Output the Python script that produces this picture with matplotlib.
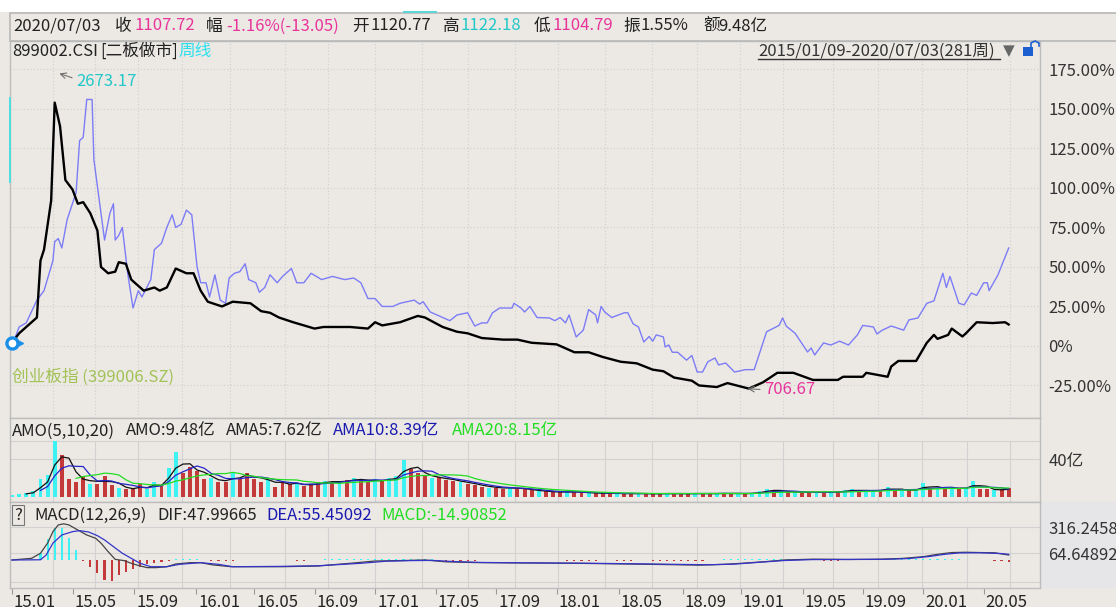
import numpy as np
import pandas as pd
import matplotlib
matplotlib.use('Agg')
import matplotlib.pyplot as plt
from matplotlib import transforms as mtransforms
from matplotlib.patches import Rectangle
from matplotlib.lines import Line2D

plt.rcParams['font.family'] = ['Noto Sans CJK SC', 'DejaVu Sans']

W, H = 1116, 607
BG = '#ECE9E5'

# 899002.CSI weekly close, % change (week index, value)
idx_w = [0, 2, 4, 7, 8, 9, 11, 12, 13.5, 15, 17, 18.5, 20, 22, 24, 25, 27, 29, 30, 32, 33.5,
         37, 40, 41.5, 43.5, 46, 49, 51, 53, 55, 59, 62, 67, 70, 72.5, 75, 79, 85, 87.5, 95,
         100, 102, 104, 109, 114, 116, 121, 125, 128, 132, 138, 142, 146, 153, 158, 162, 166,
         171, 175.5, 180, 183, 186, 191, 193, 198, 201, 207, 211, 215, 219.5, 225, 232, 233.5,
         239, 240, 246, 247, 249, 254, 257, 259, 260, 263, 264, 267, 268, 271, 275.5, 279, 280]
idx_v = [2, 8, 12, 18, 54, 61, 92, 154, 139, 105, 99, 90, 91, 84, 73, 50, 46, 47, 53, 52, 42,
         35, 37, 35, 37, 49, 46, 46, 35, 28, 25, 28, 27, 22, 21, 18, 15, 11, 12, 12,
         11, 15, 13, 15, 19, 18, 12, 9, 8, 5, 4, 4, 2, 1, -4, -4, -7,
         -10, -11, -15, -16, -20, -22, -25, -26, -23.5, -27, -23, -17, -17, -21.5, -21.5, -19.5,
         -19.5, -17, -19.5, -13, -9.5, -9.5, 2, 7, 4.5, 7, 11, 6, 8, 15, 14.5, 15, 13.6]

# 创业板指 (399006.SZ), % change
cyb_w = [0, 2, 4, 7, 9, 11.5, 12, 13, 14, 15.5, 18, 19, 20, 21, 22.5, 23, 25, 26, 27.5, 28.5,
         29, 30, 31, 32.5, 34, 35.5, 36.5, 39, 40, 42, 43.5, 45, 46, 47.5, 49, 50.5, 52, 53,
         54.5, 55.5, 57, 58.5, 60, 61, 62.5, 64, 65.5, 66.5, 68.5, 69.5, 71, 72.5, 74.5, 76,
         78.5, 80, 82, 84, 85.5, 87, 90, 93.5, 96, 98, 100, 102, 104, 107, 109, 113, 114.5,
         115.5, 117.5, 121, 123, 125, 128, 130, 132, 133.5, 135, 137, 140.5, 141, 143, 144,
         145.5, 147.5, 151, 152.5, 154, 155.5, 156.5, 158.5, 160.5, 162, 164, 164.5, 165.5,
         166.5, 168.5, 172, 173, 174.5, 176, 177.5, 179, 180, 181, 183, 183.5, 184.5, 185.5,
         187, 189.5, 191, 192.5, 194, 195.5, 197.5, 198.5, 200.5, 203, 206, 208.5, 212, 215.5,
         216.5, 217.5, 220, 223.5, 224.5, 225.5, 228, 230, 232.5, 235, 237.5, 239, 242, 243,
         244.5, 247, 250.5, 252, 254.5, 257, 259, 261.5, 262.5, 263.5, 266, 267.5, 269.5, 271,
         273, 274, 274.5, 277, 280]
cyb_v = [0, 12, 14.6, 29, 35, 54, 66, 68, 62, 80, 97, 130, 132, 156, 156, 118, 84, 67, 84, 90,
         67, 70, 75, 46, 24, 35, 31, 42, 61, 65, 75, 83, 75, 77, 86, 83, 50, 40,
         40, 31, 45, 29, 27, 43, 46, 47, 52, 42, 40, 34, 37, 45, 40, 44,
         49, 40, 40, 46, 44, 42, 44, 42, 43, 40, 30, 30, 25, 25, 27, 29, 26.5,
         28, 21.5, 18, 16, 19.6, 21, 12.6, 14.6, 14.6, 21, 24, 24, 27, 24, 21.5,
         25, 18, 17.7, 16, 18, 14.6, 19.6, 5.7, 10, 23, 19.6, 14.6, 25,
         21.5, 18, 21, 21, 14, 12, 2.5, 6, 3, 7, 5.7, -0.6, 0.6, -4,
         -4, -9, -6, -16.5, -16.5, -10, -7.6, -12, -10.8, -16.5, -15, -15, 9, 13,
         17.7, 12.6, 8, -3.8, -1.3, -5.7, 1.9, 0.6, 3, 0.6, 7, 13, 12, 7.6,
         10, 12.6, 10, 16.5, 17.7, 27, 28.5, 46, 37, 44, 27, 26, 33.5, 32,
         40, 40, 35, 45, 62]

# AMO (成交额, 亿) every second week, bar colour r=red c=cyan
amo = [2.5, 3, 4.6, 6, 19, 23, 60, 45, 19, 16,
       22, 14, 14, 22, 13, 9.5, 9, 8, 14, 8,
       16, 13, 31, 48, 26, 32, 28, 19, 20, 16,
       16, 26, 19, 26, 19, 16, 20, 11, 16, 14,
       14, 12, 13, 16, 17, 16, 16, 18, 20, 18,
       16, 19, 17, 20, 22, 39, 30, 26, 22, 20,
       21, 18, 17, 16, 14, 13, 11, 10, 10, 9,
       10, 9, 8, 7, 6, 6, 5, 5, 6, 5,
       5, 4, 4, 4, 4, 3.5, 3.5, 4, 3.5, 3.5,
       3.5, 3.5, 4, 3.5, 3.5, 3.5, 4, 3.5, 3.5, 4,
       4, 3.5, 4, 3.5, 4, 6, 8, 7, 6, 5,
       5, 5, 5, 5, 5, 5, 6, 7, 8, 6,
       7, 7, 7, 11, 7, 7, 7, 8, 15, 9,
       9, 10, 9, 9, 10, 17, 9, 8, 7, 8,
       9.5]
amo_dir = ("cccccccrrr" "rcrrrcrrrc" "crccrrrrcr" "rcrrrrcrrr" "crrrcrcrcr"
           "rcrcccrrrc" "rrrcrrrcrr" "crrrcrrrcr" "rcrrrcrrcr" "rrcrrrcrrc"
           "rrcrcccrcr" "crrcrcrccr" "ccrcrcrccr" "crcrccrrcr" "r")

# MACD(12,26,9)
macd_hist = [0, 0, 2, 5, 65, 200, 306, 306, 210, 97,
             -10, -65, -130, -194, -205, -150, -120, -90, -65, -40,
             -26, -16, -8, 12, 14, 12, 8, 0, -10, -10,
             -9, -9, 0, 0, 0, 0, 0, 0, 0, 0,
             -10, -10, 0, 0, 10, 10, 10, 10, 10, 10,
             10, 10, 10, 10, 10, 10, 10, 10, 8, 8,
             -10, -10, -10, -10, -10, -10, 0, 0, 0, 0,
             0, 0, 0, 0, 0, 0, 0, 0, -10, -10,
             -10, -8, -8, 0, 0, -10, -10, -10, 0, 0,
             -10, -10, -10, -10, -10, -10, -10, -8, 0, 0,
             8, 10, 10, 10, 10, 10, 10, 10, 10, 10,
             10, 8, 0, 0, -10, -10, -8, 0, 0, 0,
             0, 0, 0, 0, 10, 10, 10, 12, 12, 10,
             10, 10, 10, 8, 0, 0, 0, 0, -8, -12,
             -15]
dif_w = [0, 5.5, 8, 10, 11.5, 13, 14.5, 16, 18.5, 21, 23.5, 25, 27, 29, 31.5, 33.5, 36, 38, 40.5,
         43.5, 46, 50, 53, 56.5, 61.5, 67, 76, 86, 95, 102, 110, 116, 122, 130, 140, 150, 158,
         165, 175, 185, 193, 200, 205, 212, 217, 225, 235, 244, 250, 256, 260, 264, 268, 272,
         276, 280]
dif_v = [0, 16, 65, 163, 274, 339, 350, 339, 290, 242, 210, 163, 81, 6, -6, -32, -58, -74, -74,
         -65, -39, -26, -26, -48, -65, -65, -65, -58, -32, -10, -5, 0, -18, -25, -28, -30, -32,
         -35, -40, -45, -50, -42, -32, -15, 0, 8, 5, 8, 15, 32, 55, 72, 75, 72,
         70, 48]
dea_w = [0, 8, 9.6, 11.5, 14, 17, 19, 21.5, 24, 26, 28.5, 31, 33.5, 36, 39, 43.5, 47, 53, 58,
         62, 75, 86, 98, 105, 112, 118, 124, 132, 142, 152, 160, 168, 178, 188, 196, 203, 210,
         217, 225, 235, 245, 252, 258, 262, 266, 272, 278, 280]
dea_v = [0, 2, 48, 163, 242, 274, 284, 271, 235, 194, 129, 65, 16, -32, -65, -65, -42, -26, -42,
         -65, -62, -56, -32, -12, -6, -4, -15, -24, -27, -29, -31, -34, -38, -43, -46, -40, -22,
         -5, 4, 5, 6, 14, 35, 55, 68, 70, 62, 55]

pct_ticks = [-25, 0, 25, 50, 75, 100, 125, 150, 175]
macd_ticks = [64.64892, 316.24589]
tick_weeks = [0, 17.1, 34.3, 51.7, 68.0, 85.1, 102.0, 119.1, 136.0, 153.1, 170.5, 188.5,
              204.8, 222.2, 239.0, 255.9, 273.0]
tick_labels = ['15.01', '15.05', '15.09', '16.01', '16.05', '16.09', '17.01', '17.05',
               '17.09', '18.01', '18.05', '18.09', '19.01', '19.05', '19.09', '20.01', '20.05']
grid_weeks = [11.5, 23.3, 35.4, 47.8, 61.2, 76.7, 88.8, 102, 115.2, 128.1, 141.3, 153.4,
              166.6, 179.8, 192.4, 204.5, 216.6, 230.6, 243.3, 255.6, 268.3, 280.3]

week2 = np.arange(0, 281, 2)

fig = plt.figure(figsize=(W / 100, H / 100), dpi=100, facecolor=BG)

# lighter strip behind the MACD scale
fig.add_artist(Rectangle((1040 / W, 1 - 588 / H), 76 / W, 86 / H, transform=fig.transFigure,
                         facecolor='#E6E6E8', edgecolor='none', zorder=0))


def px_axes(l, t, r, b):
    a = fig.add_axes([l / W, 1 - b / H, (r - l) / W, (b - t) / H])
    a.set_facecolor(BG)
    for s in a.spines.values():
        s.set_color('#BDBDBD')
        s.set_linewidth(1.0)
    a.set_xlim(-0.56, 288.8)
    a.tick_params(axis='both', length=0, labelsize=12, colors='#333333')
    a.yaxis.tick_right()
    a.set_xticks([])
    return a


def ftext(x, y, s, color='#222222', size=12, **kw):
    fig.text(x / W, 1 - y / H, s, color=color, fontsize=size, va='center', ha=kw.pop('ha', 'left'), **kw)


ax = px_axes(10, 41, 1040, 418)
axv = px_axes(10, 418, 1040, 502)
axm = px_axes(10, 502, 1040, 588)

# ---- main panel
ax.set_ylim(-45.6, 193)
ax.set_yticks(pct_ticks)
ax.set_yticklabels(['0%' if v == 0 else '%.2f%%' % v for v in pct_ticks])
ax.tick_params(axis='y', pad=6)
for v in pct_ticks:
    ax.axhline(v, color='#CFCFCF', lw=0.8, ls=(0, (1, 2)), zorder=0)
for g in grid_weeks:
    ax.axvline(g, color='#CFCFCF', lw=0.8, ls=(0, (1, 2)), zorder=0)

ax.plot(cyb_w, cyb_v, color='#7C7CF6', lw=1.0, zorder=2)
ax.plot(idx_w, idx_v, color='black', lw=1.7, zorder=3)


def off(a, dx, dy):
    return a.transData + mtransforms.ScaledTranslation(dx / 100, -dy / 100, fig.dpi_scale_trans)


k = int(np.argmax(idx_v))
pw, pv = idx_w[k], idx_v[k]
ax.annotate('2673.17', xy=(pw, pv), xytext=(22 * 0.72, 21 * 0.72), textcoords='offset points',
            color='#22C8C8', fontsize=12, ha='left', va='center', annotation_clip=False)
ax.annotate('', xy=(pw, pv), xycoords=off(ax, 2, -30), xytext=(pw, pv), textcoords=off(ax, 20, -24),
            arrowprops=dict(arrowstyle='->', color='#707070', lw=0.8), annotation_clip=False)
k = int(np.argmin(idx_v))
mw, mv = idx_w[k], idx_v[k]
ax.annotate('706.67', xy=(mw, mv), xytext=(15 * 0.72, -1 * 0.72), textcoords='offset points',
            color='#E8349A', fontsize=12, ha='left', va='center')
ax.annotate('', xy=(mw, mv), xycoords=off(ax, -4, 0), xytext=(mw, mv), textcoords=off(ax, 14, 1),
            arrowprops=dict(arrowstyle='->', color='#707070', lw=0.8))

# start marker
ax.plot(idx_w[0], idx_v[0], marker='o', ms=8, mfc='white', mec='#1A8FE8', mew=2.4, clip_on=False, zorder=5)
ax.plot(idx_w[0], idx_v[0], marker='>', ms=5, color='#1A8FE8', clip_on=False, zorder=5,
        transform=off(ax, 8, 0))

ax.text(0.002, 0.108, '创业板指 (399006.SZ)', transform=ax.transAxes, color='#A2C256',
        fontsize=12, va='center', ha='left')

# ---- volume panel
axv.set_ylim(-5.3, 84)
axv.set_yticks([40])
axv.set_yticklabels(['40亿'])
axv.tick_params(axis='y', pad=6)
for v in (40, 60):
    axv.axhline(v, color='#D2D2D2', lw=0.8, zorder=0)
axv.vlines(grid_weeks, -5.3, 60, color='#D2D2D2', lw=0.8, zorder=0)
bar_cols = ['#C43A3A' if c == 'r' else '#3CF2F2' for c in amo_dir]
axv.bar(week2, amo, width=1.1, color=bar_cols, zorder=2)
s = pd.Series(amo)
axv.plot(week2, s.rolling(3).mean(), color='#111111', lw=0.9, zorder=3)
axv.plot(week2, s.rolling(5).mean(), color='#2626C8', lw=0.9, zorder=3)
axv.plot(week2, s.rolling(10).mean(), color='#22DD22', lw=0.9, zorder=3)

# ---- MACD panel
axm.set_facecolor('none')
axm.set_ylim(-271, 561)
axm.set_yticks(macd_ticks)
axm.set_yticklabels(['64.64892', '316.24589'])
axm.tick_params(axis='y', pad=6)
axm.add_patch(Rectangle((0, 0), 1, 1, transform=axm.transAxes, facecolor=BG, edgecolor='none', zorder=-1))
for v in macd_ticks + [-213]:
    axm.axhline(v, color='#D2D2D2', lw=0.8, zorder=0)
axm.vlines(grid_weeks, -271, 316.25, color='#D2D2D2', lw=0.8, zorder=0)
h_cols = ['#3CF2F2' if v >= 0 else '#C43A3A' for v in macd_hist]
axm.bar(week2, macd_hist, width=0.6, color=h_cols, zorder=2)
axm.plot(dif_w, dif_v, color='#444444', lw=0.9, zorder=3)
axm.plot(dea_w, dea_v, color='#3434C8', lw=0.9, zorder=3)

axm.set_xticks(tick_weeks)
axm.set_xticklabels(tick_labels, ha='left')
axm.tick_params(axis='x', length=4, direction='out', color='#9A9A9A', labelsize=12,
                labelcolor='#222222', pad=0)
for lab in axm.get_xticklabels():
    lab.set_transform(lab.get_transform() + mtransforms.ScaledTranslation(0.02, 0, fig.dpi_scale_trans))

# ---- header / decorations
fig.add_artist(Rectangle((0, 1 - 12 / H), 1, 12 / H, transform=fig.transFigure,
                         facecolor='white', edgecolor='none'))
fig.add_artist(Rectangle((10 / W, 1 - 41 / H), 1110 / W, 28 / H, transform=fig.transFigure,
                         facecolor=BG, edgecolor='#B8B8B8', lw=1.2))
fig.add_artist(Rectangle((403 / W, 1 - 13 / H), 34 / W, 2 / H, transform=fig.transFigure,
                         facecolor='#5ED6D6', edgecolor='none'))
fig.add_artist(Rectangle((9 / W, 1 - 183 / H), 2 / W, 86 / H, transform=fig.transFigure,
                         facecolor='#4EDEDE', edgecolor='none'))

header = [(13, '2020/07/03', '#222222'), (115, '收', '#222222'), (134, '1107.72', '#E8349A'),
          (206, '幅', '#222222'), (226, '-1.16%(-13.05)', '#E8349A'), (352, '开', '#222222'),
          (370, '1120.77', '#222222'), (443, '高', '#222222'), (461, '1122.18', '#22C8C8'),
          (534, '低', '#222222'), (552, '1104.79', '#E8349A'), (623, '振', '#222222'),
          (640, '1.55%', '#222222'), (703, '额', '#222222'), (718, '9.48亿', '#222222')]
for x, t, c in header:
    ftext(x, 26, t, c)

ftext(12, 51, '899002.CSI', '#222222')
ftext(100, 51, '[二板做市]', '#222222')
ftext(178, 51, '周线', '#2EE0EE')
ftext(758, 51, '2015/01/09-2020/07/03(281周)', '#333333')
fig.add_artist(Line2D([758 / W, 1000 / W], [1 - 59 / H, 1 - 59 / H], color='#333333', lw=1))
ftext(1009, 51, '▼', '#666666', size=11, ha='center', family='DejaVu Sans')
fig.add_artist(Rectangle((1023 / W, 1 - 56 / H), 10 / W, 9 / H, transform=fig.transFigure,
                         facecolor='#1C5FD0', edgecolor='none'))
fig.add_artist(Line2D([1031 / W, 1031 / W, 1035 / W, 1039 / W, 1039 / W],
                      [1 - 47 / H, 1 - 43 / H, 1 - 41 / H, 1 - 43 / H, 1 - 46 / H],
                      color='#1C5FD0', lw=1.2))

ftext(12, 431, 'AMO(5,10,20)', '#222222')
ftext(126, 431, 'AMO:9.48亿', '#222222')
ftext(226, 431, 'AMA5:7.62亿', '#222222')
ftext(333, 431, 'AMA10:8.39亿', '#1A1AB0')
ftext(452, 431, 'AMA20:8.15亿', '#22DD22')

ftext(14, 515, '?', '#222222', bbox=dict(boxstyle='square,pad=0.1', fc=BG, ec='#777777', lw=0.8))
ftext(34, 515, 'MACD(12,26,9)', '#222222')
ftext(157, 515, 'DIF:47.99665', '#222222')
ftext(266, 515, 'DEA:55.45092', '#1A1AB0')
ftext(381, 515, 'MACD:-14.90852', '#22DD22')

fig.savefig('out.png', dpi=100, facecolor=BG)
